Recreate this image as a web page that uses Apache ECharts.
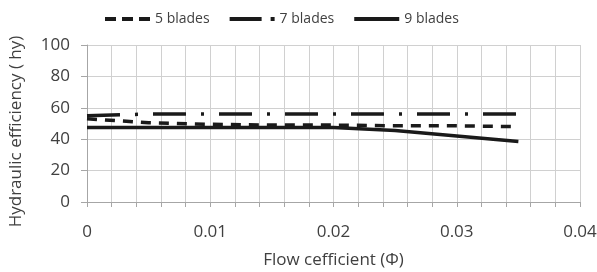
<!DOCTYPE html>
<html>
<head>
<meta charset="utf-8">
<script src="https://cdn.jsdelivr.net/npm/echarts@6/dist/echarts.min.js"></script>
<style>
html, body { margin: 0; padding: 0; background: #fff; }
#main { width: 597px; height: 272px; }
</style>
</head>
<body>
<div id="main"></div>
<script>
var flow = [0, 0.005, 0.01, 0.015, 0.02, 0.025, 0.03, 0.035];
var blades5 = [53, 50.5, 49.5, 49, 49, 48.5, 48.5, 48];
var blades7 = [55, 56, 56, 56, 56, 56, 56, 56];
var blades9 = [47.5, 47.5, 47.5, 47.5, 47.5, 45.5, 42, 38.5];

function pairs(ys) {
	return flow.map(function (x, i) { return [x, ys[i]]; });
}

var myChart = echarts.init(document.getElementById('main'));
var font = 'Open Sans';
var txt = '#404040';
var grey = '#a6a6a6';

// legend icons drawn as little dash patterns
var iconDash = 'path://M0,0h11v4h-11z M17,0h11v4h-11z M34,0h11v4h-11z';
var iconDashDot = 'path://M0,0h32v4h-32z M41,0h4v4h-4z';
var iconSolid = 'path://M0,0h45v4h-45z';

option = {
	animation: false,
	textStyle: { fontFamily: font },
	legend: {
		top: 7,
		left: 100,
		itemWidth: 45,
		itemHeight: 4,
		itemGap: 20,
		textStyle: { fontSize: 14, color: txt, fontFamily: font },
		data: [
			{ name: '5 blades', icon: iconDash },
			{ name: '7 blades', icon: iconDashDot },
			{ name: '9 blades', icon: iconSolid }
		]
	},
	grid: { left: 87, right: 17, top: 45, bottom: 70, outerBoundsMode: 'none' },
	xAxis: {
		type: 'value',
		min: 0,
		max: 0.04,
		interval: 0.002,
		name: 'Flow cefficient (\u03A6)',
		nameLocation: 'middle',
		nameGap: 50,
		nameTextStyle: { fontSize: 17, color: txt },
		axisLine: { lineStyle: { color: grey } },
		axisTick: { show: true, length: 5, lineStyle: { color: grey } },
		axisLabel: {
			fontSize: 17,
			color: txt,
			margin: 22,
			showMaxLabel: true,
			formatter: function (v) {
				var k = v / 0.01;
				if (Math.abs(k - Math.round(k)) > 1e-6) return '';
				return String(+v.toFixed(2));
			}
		},
		splitLine: { show: true, lineStyle: { color: '#d0d0d0' } }
	},
	yAxis: {
		type: 'value',
		min: 0,
		max: 100,
		interval: 20,
		name: 'Hydraulic efficiency ( hy)',
		nameLocation: 'middle',
		nameGap: 62,
		nameTextStyle: { fontSize: 17, color: txt, padding: [0, 16, 0, 0] },
		axisLine: { show: true, lineStyle: { color: grey } },
		axisTick: { show: true, length: 6, lineStyle: { color: grey } },
		axisLabel: { fontSize: 17, color: txt, margin: 17 },
		splitLine: { show: true, lineStyle: { color: '#d0d0d0' } }
	},
	series: [
		{
			name: '5 blades',
			type: 'line',
			symbol: 'none',
			data: pairs(blades5),
			itemStyle: { color: '#1a1a1a' },
			lineStyle: { color: '#1a1a1a', width: 3.5, type: [10, 8] }
		},
		{
			name: '7 blades',
			type: 'line',
			symbol: 'none',
			data: pairs(blades7),
			itemStyle: { color: '#1a1a1a' },
			lineStyle: { color: '#1a1a1a', width: 3.5, type: [33, 15, 3, 15] }
		},
		{
			name: '9 blades',
			type: 'line',
			symbol: 'none',
			data: pairs(blades9),
			itemStyle: { color: '#1a1a1a' },
			lineStyle: { color: '#1a1a1a', width: 3.5 }
		}
	]
};

myChart.setOption(option);
</script>
</body>
</html>
